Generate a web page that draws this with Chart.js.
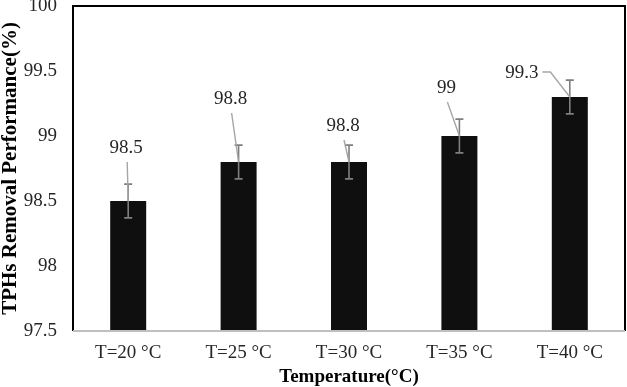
<!DOCTYPE html>
<html>
<head>
<meta charset="utf-8">
<script src="https://cdn.jsdelivr.net/npm/chart.js@4"></script>
<style>
  html, body { margin: 0; padding: 0; background: #fff; }
  #wrap { width: 627px; height: 387px; }
</style>
</head>
<body>
<div id="wrap"><canvas id="tphChart"></canvas></div>
<script>
const categories = ["T=20 °C", "T=25 °C", "T=30 °C", "T=35 °C", "T=40 °C"];
const removalValues = [98.5, 98.8, 98.8, 99, 99.3];
const errorValues = [0.13, 0.13, 0.13, 0.13, 0.13];
const yTicks = [97.5, 98, 98.5, 99, 99.5, 100];

// pixel offsets of each data label from the top of its bar (Excel-style moved labels)
const labelOffsets = [[-2, -53], [-8, -63], [-6, -36], [-13, -48], [-48, -24]];

const serif = "'Liberation Serif', 'Times New Roman', serif";

const errorAndLabelPlugin = {
  id: "errorAndLabel",
  afterDatasetsDraw(chart) {
    const ctx = chart.ctx;
    const meta = chart.getDatasetMeta(0);
    const y = chart.scales.y;
    ctx.save();
    // error bars
    ctx.strokeStyle = "#7f7f7f";
    ctx.lineWidth = 1.6;
    meta.data.forEach((bar, i) => {
      const hi = y.getPixelForValue(removalValues[i] + errorValues[i]);
      const lo = y.getPixelForValue(removalValues[i] - errorValues[i]);
      ctx.beginPath();
      ctx.moveTo(bar.x, hi);
      ctx.lineTo(bar.x, lo);
      ctx.moveTo(bar.x - 4, hi);
      ctx.lineTo(bar.x + 4, hi);
      ctx.moveTo(bar.x - 4, lo);
      ctx.lineTo(bar.x + 4, lo);
      ctx.stroke();
    });
    // data labels with leader lines
    ctx.font = "19px " + serif;
    ctx.textAlign = "center";
    ctx.textBaseline = "middle";
    meta.data.forEach((bar, i) => {
      const [dx, dy] = labelOffsets[i];
      const lx = bar.x + dx;
      const ly = bar.y + dy;
      const text = String(removalValues[i]);
      const w = ctx.measureText(text).width;
      ctx.strokeStyle = "#a6a6a6";
      ctx.lineWidth = 1.4;
      ctx.beginPath();
      if (Math.abs(dx) > Math.abs(dy)) {
        const sx = lx + w / 2 + 4;
        ctx.moveTo(sx, ly - 1);
        ctx.lineTo(sx + 8, ly - 1);
        ctx.lineTo(bar.x, bar.y);
      } else {
        ctx.moveTo(lx + 1, ly + 14);
        ctx.lineTo(bar.x, bar.y);
      }
      ctx.stroke();
      ctx.fillStyle = "#262626";
      ctx.fillText(text, lx, ly);
    });
    ctx.restore();
  },
  afterDraw(chart) {
    const { ctx, chartArea } = chart;
    ctx.save();
    ctx.strokeStyle = "#000";
    ctx.lineWidth = 2;
    ctx.beginPath();
    ctx.moveTo(chartArea.left, chartArea.bottom);
    ctx.lineTo(chartArea.left, chartArea.top);
    ctx.lineTo(chartArea.right, chartArea.top);
    ctx.lineTo(chartArea.right, chartArea.bottom);
    ctx.stroke();
    ctx.strokeStyle = "#bfbfbf";
    ctx.beginPath();
    ctx.moveTo(chartArea.left, chartArea.bottom);
    ctx.lineTo(chartArea.right, chartArea.bottom);
    ctx.stroke();
    ctx.restore();
  },
};

const dataTph = {
  labels: categories,
  datasets: [
    {
      label: "TPHs removal",
      data: removalValues,
      backgroundColor: "#0f0f0f",
      borderWidth: 0,
      categoryPercentage: 1,
      barPercentage: 0.326,
    },
  ],
};

const configTph = {
  type: "bar",
  data: dataTph,
  options: {
    responsive: true,
    maintainAspectRatio: false,
    animation: false,
    layout: {
      padding: { top: 6, right: 2, left: 0, bottom: 0 },
    },
    scales: {
      x: {
        grid: { display: false, drawTicks: false },
        border: { display: false },
        ticks: {
          color: "#262626",
          padding: 11,
          font: { family: serif, size: 19 },
        },
        title: {
          display: true,
          text: "Temperature(°C)",
          color: "#000",
          padding: { top: 0, bottom: 0 },
          font: { family: serif, size: 19, weight: "bold", lineHeight: 1 },
        },
        afterFit(scale) {
          scale.height = 56;
          scale.paddingLeft = 0;
          scale.paddingRight = 0;
        },
      },
      y: {
        min: 97.5,
        max: 100,
        grid: { display: false, drawTicks: false },
        border: { display: false },
        afterBuildTicks(scale) {
          scale.ticks = yTicks.map((v) => ({ value: v }));
        },
        ticks: {
          color: "#262626",
          padding: 16,
          font: { family: serif, size: 19 },
          callback: (v) => String(v),
        },
        title: {
          display: true,
          text: "TPHs Removal Performance(%)",
          color: "#000",
          padding: { top: 0, bottom: 0 },
          font: { family: serif, size: 21, weight: "bold", lineHeight: 1 },
        },
        afterFit(scale) {
          scale.width = 73;
          scale.paddingTop = 0;
          scale.paddingBottom = 0;
        },
      },
    },
    plugins: {
      legend: { display: false },
      tooltip: { enabled: false },
    },
  },
  plugins: [errorAndLabelPlugin],
};

const tphChart = new Chart(document.getElementById("tphChart"), configTph);
</script>
</body>
</html>
